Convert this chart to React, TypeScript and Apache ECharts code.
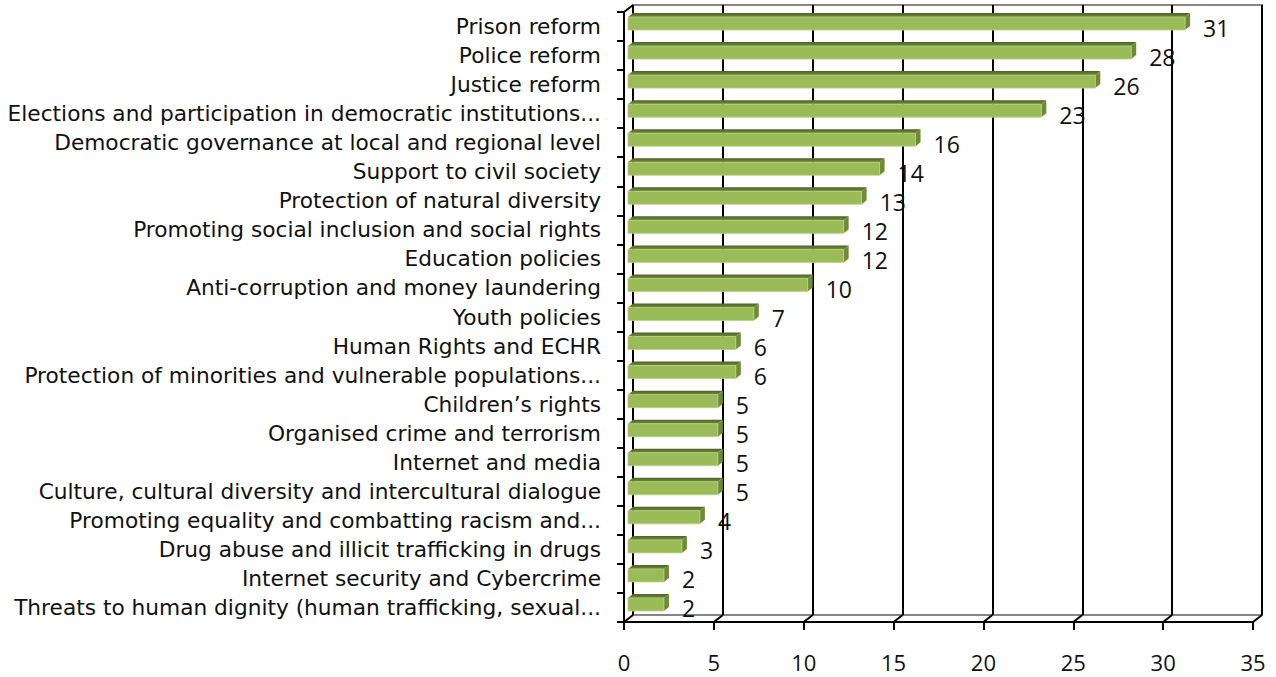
import React, { useEffect, useRef } from "react";
import * as echarts from "echarts";

const categories = [
  "Prison reform",
  "Police reform",
  "Justice reform",
  "Elections and participation in democratic institutions...",
  "Democratic governance at local and regional level",
  "Support to civil society",
  "Protection of natural diversity",
  "Promoting social inclusion and social rights",
  "Education policies",
  "Anti-corruption and money laundering",
  "Youth policies",
  "Human Rights and ECHR",
  "Protection of minorities and vulnerable populations...",
  "Children\u2019s rights",
  "Organised crime and terrorism",
  "Internet and media",
  "Culture, cultural diversity and intercultural dialogue",
  "Promoting equality and combatting racism and...",
  "Drug abuse and illicit trafficking in drugs",
  "Internet security and Cybercrime",
  "Threats to human dignity (human trafficking, sexual...",
];
const values = [31, 28, 26, 23, 16, 14, 13, 12, 12, 10, 7, 6, 6, 5, 5, 5, 5, 4, 3, 2, 2];
const xTicks = [0, 5, 10, 15, 20, 25, 30, 35];

const NUM_FONT = "Open Sans";
const CAT_FONT = "DejaVu Sans";
const DX = 9; // depth offset of back plane
const DY = -7;

export default function App() {
  const ref = useRef<HTMLDivElement>(null);
  useEffect(() => {
    if (!ref.current) return;
    const chart = echarts.init(ref.current, undefined, { renderer: "svg" });
    const option: any = {
      animation: false,
      backgroundColor: "#ffffff",
      grid: [
        { left: 624, top: 12, width: 629, height: 610, containLabel: false },
        {
          left: 633, top: 5, width: 629, height: 610, show: true,
          borderColor: "#868686", borderWidth: 2, backgroundColor: "transparent",
        },
      ],
      xAxis: [
        {
          gridIndex: 0, type: "value", min: 0, max: 35, interval: 5,
          axisLine: { show: true, lineStyle: { color: "#000", width: 2 } },
          axisTick: { show: true, inside: false, length: 8, lineStyle: { color: "#000", width: 2 } },
          axisLabel: { fontFamily: NUM_FONT, fontSize: 22, color: "#111", margin: 29 },
          splitLine: { show: false },
        },
        {
          gridIndex: 1, type: "value", min: 0, max: 35, interval: 5,
          axisLine: { show: false }, axisTick: { show: false }, axisLabel: { show: false },
          splitLine: { show: true, lineStyle: { color: "#000", width: 2 } },
        },
      ],
      yAxis: [
        {
          gridIndex: 0, type: "category", data: categories, inverse: true,
          axisLine: { show: true, lineStyle: { color: "#000", width: 2 } },
          axisTick: { show: true, inside: false, length: 7, lineStyle: { color: "#000", width: 2 } },
          axisLabel: {
            fontFamily: CAT_FONT, fontSize: 21.7, color: "#111", margin: 23,
            padding: [4, 0, 0, 0],
          },
          splitLine: { show: false },
        },
        {
          gridIndex: 1, type: "category", data: categories, inverse: true,
          axisLine: { show: false }, axisTick: { show: false }, axisLabel: { show: false },
          splitLine: { show: false },
        },
      ],
      series: [
        {
          type: "custom",
          name: "connectors",
          xAxisIndex: 0, yAxisIndex: 0,
          data: xTicks.map((t) => [t, 0]),
          silent: true,
          z: 1,
          renderItem: (params: any, api: any) => {
            const cs = params.coordSys;
            const x = api.coord([api.value(0), 0])[0];
            const yb = cs.y + cs.height;
            const children: any[] = [
              {
                type: "line",
                shape: { x1: x, y1: yb, x2: x + DX, y2: yb + DY },
                style: { stroke: "#000", lineWidth: 2 },
              },
            ];
            if (params.dataIndex === 0) {
              children.push({
                type: "line",
                shape: { x1: cs.x, y1: cs.y, x2: cs.x + DX, y2: cs.y + DY },
                style: { stroke: "#000", lineWidth: 2 },
              });
            }
            return { type: "group", children };
          },
        },
        {
          type: "custom",
          name: "bars",
          xAxisIndex: 0, yAxisIndex: 0,
          data: values.map((v, i) => [v, i]),
          z: 3,
          renderItem: (params: any, api: any) => {
            const v = api.value(0);
            const idx = api.value(1);
            const p0 = api.coord([0, idx]);
            const p1 = api.coord([v, idx]);
            const cy = p0[1];
            const fx0 = p0[0] + 4;
            const fx1 = p1[0] + 4;
            const top = cy - 9.5;
            const bot = cy + 3.5;
            const dx = 5;
            const dy = -4;
            return {
              type: "group",
              children: [
                {
                  type: "polygon",
                  shape: { points: [[fx0, top], [fx1, top], [fx1 + dx, top + dy], [fx0 + dx, top + dy]] },
                  style: {
                    fill: new echarts.graphic.LinearGradient(0, 0, 0, 1, [
                      { offset: 0, color: "#4F6228" },
                      { offset: 1, color: "#6E8B3A" },
                    ]),
                  },
                },
                {
                  type: "polygon",
                  shape: { points: [[fx1, top], [fx1 + dx, top + dy], [fx1 + dx, bot + dy], [fx1, bot]] },
                  style: { fill: "#6F8A35" },
                },
                {
                  type: "rect",
                  shape: { x: fx0, y: top, width: fx1 - fx0, height: bot - top },
                  style: { fill: "#9BBB59", stroke: "#B9D084", lineWidth: 0.8 },
                },
                {
                  type: "text",
                  style: {
                    text: String(v),
                    x: p1[0] + 22,
                    y: cy + 1,
                    fontFamily: NUM_FONT,
                    fontSize: 23,
                    fill: "#111",
                    verticalAlign: "middle",
                    align: "left",
                  },
                  z2: 10,
                },
              ],
            };
          },
        },
      ],
    };
    chart.setOption(option);
    return () => chart.dispose();
  }, []);
  return (
    <div
      ref={ref}
      style={{ position: "absolute", left: 0, top: 0, width: 1276, height: 677 }}
    />
  );
}
